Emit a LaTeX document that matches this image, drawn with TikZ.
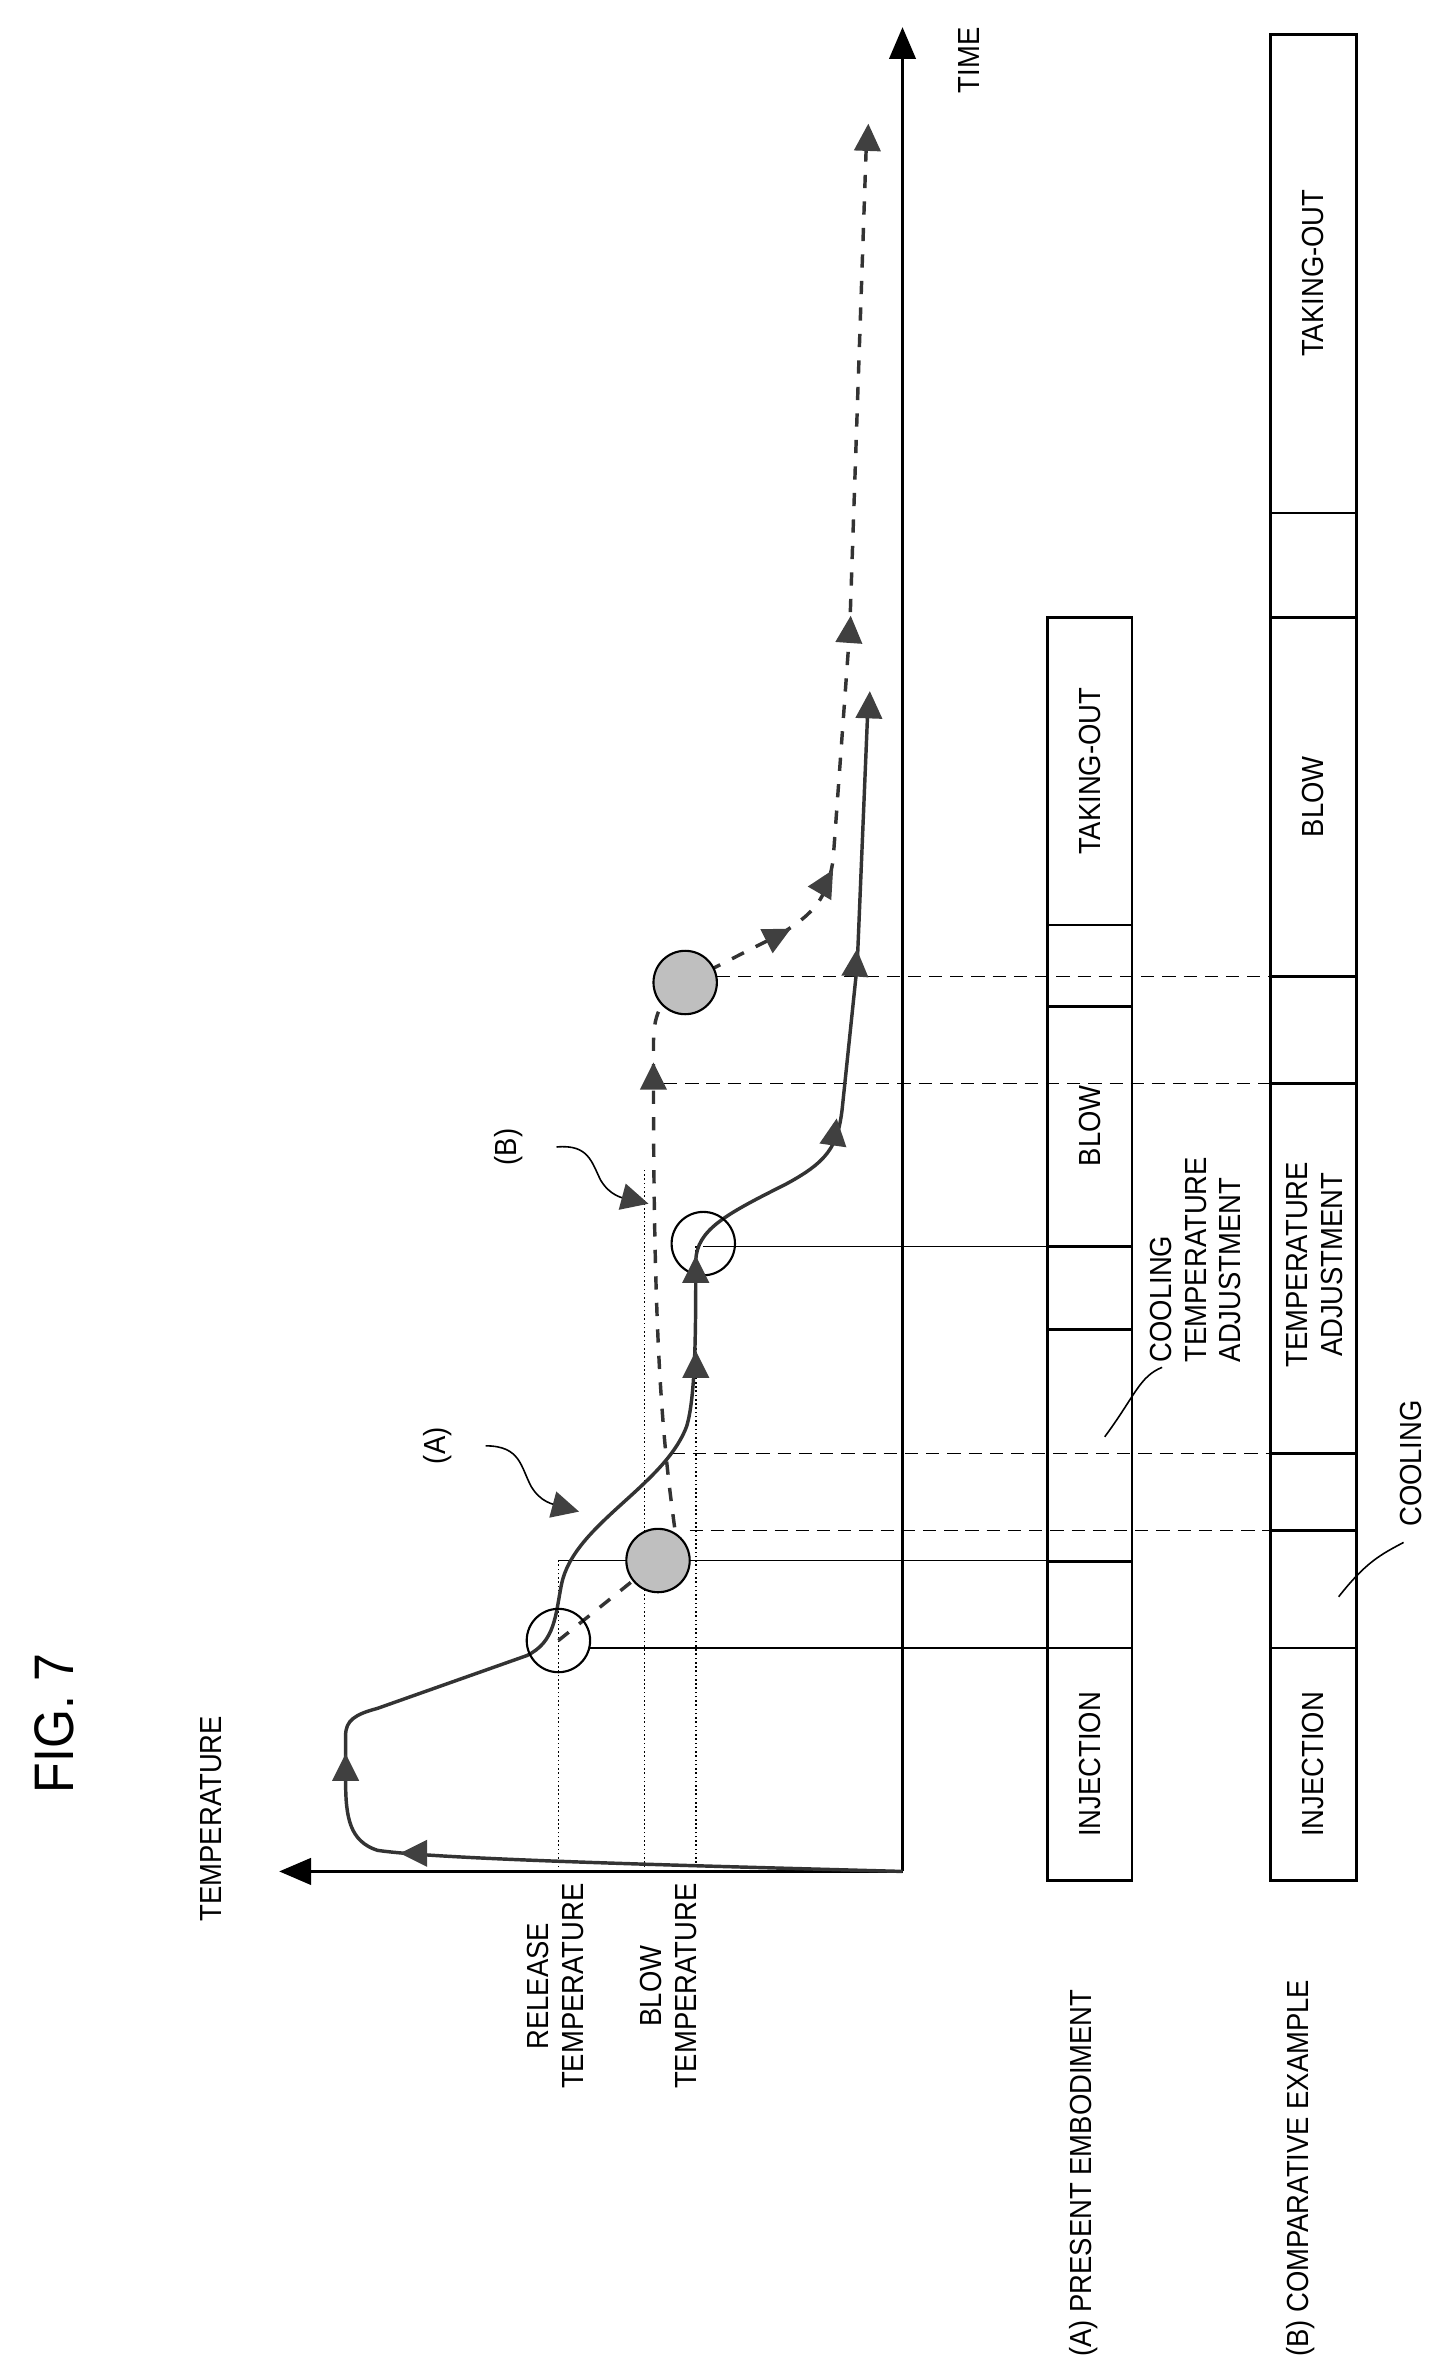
\documentclass[tikz,border=0pt]{standalone}
\usepackage{fontspec}
\setmainfont[FakeStretch=0.9]{Liberation Sans}
\usetikzlibrary{arrows.meta}
\tikzset{x=0.02cm,y=-0.02cm,
  lbl/.style={rotate=90,font=\fontsize{11.5}{13}\selectfont,align=center,inner sep=0pt},
  curveA/.style={line width=1.3pt,black!80},
  curveB/.style={line width=1.3pt,black!80,dash pattern=on 5pt off 5pt},
  level/.style={line width=0.6pt,densely dotted},
  timeline/.style={line width=0.6pt},
  timelined/.style={line width=0.6pt,dash pattern=on 5pt off 3pt},
  bar/.style={line width=1pt},
  ring/.style={line width=0.8pt},
  blob/.style={line width=0.8pt,fill=black!25},
  tipfill/.style={fill=black!75}}
\newcommand\arrowmark[2]{\fill[tipfill,shift={(#1)},rotate=#2] (10,0) -- (-8,9) -- (-8,-9) -- cycle;}
\begin{document}
\begin{tikzpicture}
\useasboundingbox (0,0) rectangle (963,1575);
%Titel
\node [rotate=90,font=\fontsize{21}{24}\selectfont] (fig) at (36,1142) {FIG. 7};
%Achsen
\coordinate (o) at (598,1240);
\draw [line width=1pt,-{Triangle[length=12pt,width=10pt]}] (o) -- (185,1240) coordinate (tmax);
\draw [line width=1pt,-{Triangle[length=12pt,width=10pt]}] (o) -- (598,18) coordinate (tend);
\node [lbl] (time) at (642,40) {TIME};
\node [lbl] (temp) at (140,1205) {TEMPERATURE};
\node [lbl] (rel) at (368,1316) {RELEASE\\TEMPERATURE};
\node [lbl] (blw) at (443,1316) {BLOW\\TEMPERATURE};
%Hilfslinien
\draw [level] (370,1240) -- (370,1034);
\draw [level] (427,1240) -- (427,774);
\draw [level] (461,1240) -- (461,824);
\draw [timeline] (391,1092) -- (750,1092);
\draw [timeline] (370,1034) -- (750,1034);
\draw [timeline] (466,826) -- (750,826);
\draw [timelined] (457,1014) -- (899,1014);
\draw [timelined] (445,963) -- (899,963);
\draw [timelined] (440,718) -- (899,718);
\draw [timelined] (475,647) -- (899,647);
%Kurven
\draw [curveA] (o) .. controls (450,1236) and (290,1232) .. (250,1226)
  .. controls (232,1220) and (229,1205) .. (229,1180) -- (229,1150)
  .. controls (229,1140) and (235,1136) .. (250,1132) -- (349,1097)
  .. controls (368,1088) and (368,1070) .. (372,1050)
  .. controls (380,1010) and (440,985) .. (455,945)
  .. controls (461,925) and (461,880) .. (461,835)
  .. controls (462,815) and (480,805) .. (520,785)
  .. controls (548,770) and (555,760) .. (558,735) -- (568,639) -- (575,470);
\draw [curveB] (370,1087) -- (436,1034);
\draw [curveB] (447,1012) .. controls (440,960) and (433,900) .. (433,717) -- (433,690)
  .. controls (433,670) and (440,660) .. (454,651) -- (517,619)
  .. controls (540,605) and (548,595) .. (552,570) -- (563,418) -- (574,96);
%Kreise
\draw [ring] (370,1087) circle (21);
\draw [blob] (436,1034) circle (21);
\draw [ring] (466,824) circle (21);
\draw [blob] (454,651) circle (21);
%Pfeilspitzen
\arrowmark{275,1228}{180}
\arrowmark{229,1172}{90}
\arrowmark{461,905}{90}
\arrowmark{461,842}{90}
\arrowmark{553,751}{82}
\arrowmark{567,639}{86}
\arrowmark{576,468}{88}
\arrowmark{433,714}{90}
\arrowmark{515,620}{27}
\arrowmark{547,585}{60}
\arrowmark{563,418}{86}
\arrowmark{575,92}{88}
%Bezeichner (A), (B)
\node [lbl] (la) at (290,958) {(A)};
\node [lbl] (lb) at (337,760) {(B)};
\draw [line width=0.6pt] (la.south) ++(22,0) coordinate (la0) .. controls (345,958) and (345,972) .. (352,985) .. controls (358,995) and (366,997) .. (372,998);
\arrowmark{374,999}{-15}
\draw [line width=0.6pt] (lb.south) ++(22,0) coordinate (lb0) .. controls (390,758) and (392,770) .. (398,782) .. controls (404,792) and (412,794) .. (418,795);
\arrowmark{420,795}{-15}
%Ablauf (A)
\node [lbl,anchor=west] (pa) at (718,1562) {(A) PRESENT EMBODIMENT};
\draw [bar] (694,409) rectangle (750,1246);
\foreach \y in {613,667,826,881,1035,1092} \draw [bar] (694,\y) -- (750,\y);
\node [lbl] (a1) at (722,1169) {INJECTION};
\node [lbl] (a2) at (722,746) {BLOW};
\node [lbl] (a3) at (722,511) {TAKING-OUT};
\node [lbl,anchor=north west,align=left] (a4) at (762,903) {COOLING\\TEMPERATURE\\ADJUSTMENT};
\draw [line width=0.6pt] (770,906) .. controls (755,912) and (752,925) .. (732,952);
%Ablauf (B)
\node [lbl,anchor=west] (pb) at (862,1562) {(B) COMPARATIVE EXAMPLE};
\draw [bar] (842,23) rectangle (899,1246);
\foreach \y in {340,409,647,718,963,1014,1092} \draw [bar] (842,\y) -- (899,\y);
\node [lbl] (b1) at (870,1169) {INJECTION};
\node [lbl] (b2) at (870,528) {BLOW};
\node [lbl] (b3) at (870,181) {TAKING-OUT};
\node [lbl] (b4) at (871,838) {TEMPERATURE\\ADJUSTMENT};
\node [lbl,anchor=west] (b5) at (935,1012) {COOLING};
\draw [line width=0.6pt] (930,1022) .. controls (915,1030) and (905,1035) .. (887,1058);
\end{tikzpicture}
\end{document}
